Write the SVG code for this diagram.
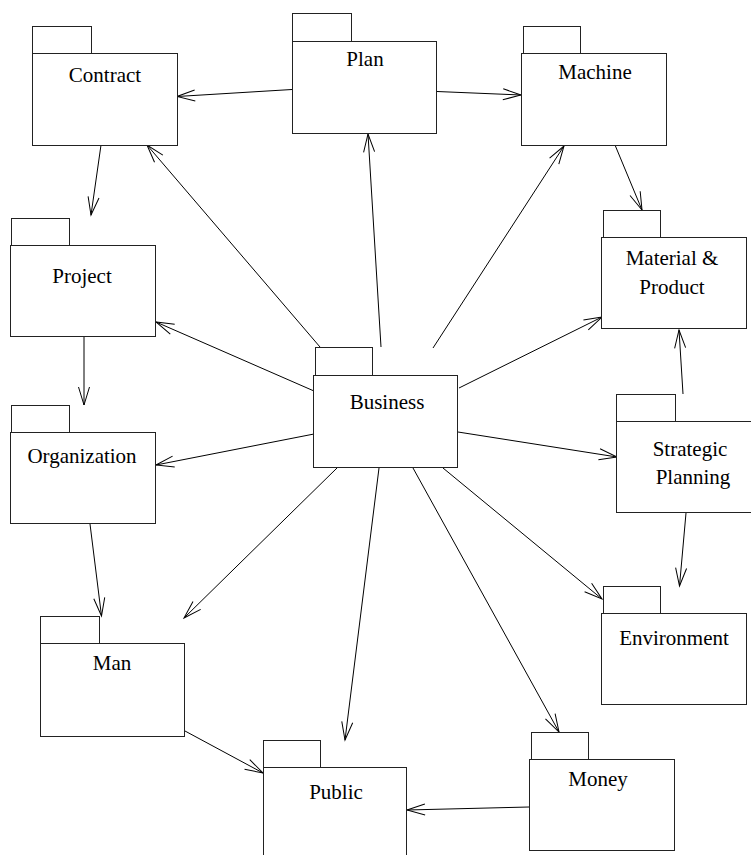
<svg xmlns="http://www.w3.org/2000/svg" width="751" height="855" viewBox="0 0 751 855">
<style>
.box{fill:#fff;stroke:#222;stroke-width:1}
.lbl{font-family:"Liberation Serif","Times New Roman",serif;font-size:21px;fill:#000;text-anchor:middle}
.edge{stroke:#000;stroke-width:1;fill:none;marker-end:url(#arr)}
</style>
<defs>
<marker id="arr" viewBox="-20 -8 22 16" refX="0" refY="0" markerWidth="22" markerHeight="16" orient="auto" markerUnits="userSpaceOnUse">
<path d="M-18,-5.5 L0,0 L-18,5.5" fill="none" stroke="#000" stroke-width="1"/>
</marker>
</defs>
<rect width="751" height="855" fill="#fff"/>
<g id="connectors">
<line class="edge" x1="292" y1="89.5" x2="177" y2="96.5"/>
<line class="edge" x1="101" y1="145" x2="91" y2="215"/>
<line class="edge" x1="320" y1="347" x2="147" y2="145"/>
<line class="edge" x1="437" y1="91.5" x2="521" y2="95"/>
<line class="edge" x1="381" y1="347" x2="368" y2="134"/>
<line class="edge" x1="433" y1="348" x2="564" y2="146"/>
<line class="edge" x1="615" y1="145" x2="642" y2="210"/>
<line class="edge" x1="459" y1="388" x2="602" y2="317"/>
<line class="edge" x1="683" y1="394" x2="679" y2="330"/>
<line class="edge" x1="314" y1="391" x2="156" y2="322"/>
<line class="edge" x1="84" y1="337" x2="84" y2="405"/>
<line class="edge" x1="314" y1="434" x2="156" y2="465"/>
<line class="edge" x1="90" y1="524" x2="101.5" y2="616"/>
<line class="edge" x1="337" y1="468" x2="184" y2="618"/>
<line class="edge" x1="185" y1="731" x2="263" y2="773"/>
<line class="edge" x1="379" y1="468" x2="345" y2="740"/>
<line class="edge" x1="529" y1="807" x2="407" y2="810"/>
<line class="edge" x1="413" y1="468" x2="559" y2="732"/>
<line class="edge" x1="443" y1="468" x2="602" y2="599"/>
<line class="edge" x1="458" y1="432" x2="617" y2="457"/>
<line class="edge" x1="686" y1="513" x2="679.5" y2="586"/>
</g>
<g id="contract">
<rect class="box" x="32.5" y="26.5" width="59" height="27"/>
<rect class="box" x="32.5" y="53.5" width="145" height="92"/>
<text class="lbl" x="105" y="82">Contract</text>
</g>
<g id="plan">
<rect class="box" x="292.5" y="13.5" width="59" height="28"/>
<rect class="box" x="292.5" y="41.5" width="144" height="92"/>
<text class="lbl" x="365" y="66">Plan</text>
</g>
<g id="machine">
<rect class="box" x="523.5" y="26.5" width="57" height="27"/>
<rect class="box" x="521.5" y="53.5" width="145" height="92"/>
<text class="lbl" x="595" y="79">Machine</text>
</g>
<g id="material">
<rect class="box" x="603.5" y="210.5" width="57" height="27"/>
<rect class="box" x="601.5" y="237.5" width="145" height="91"/>
<text class="lbl" x="672" y="265">Material &amp;</text>
<text class="lbl" x="672" y="294">Product</text>
</g>
<g id="project">
<rect class="box" x="11.5" y="218.5" width="58" height="27"/>
<rect class="box" x="10.5" y="245.5" width="145" height="91"/>
<text class="lbl" x="82" y="283">Project</text>
</g>
<g id="organization">
<rect class="box" x="11.5" y="405.5" width="58" height="27"/>
<rect class="box" x="10.5" y="432.5" width="145" height="91"/>
<text class="lbl" x="82" y="463">Organization</text>
</g>
<g id="business">
<rect class="box" x="315.5" y="347.5" width="57" height="29"/>
<rect class="box" x="313.5" y="375.5" width="144" height="92"/>
<text class="lbl" x="387" y="409">Business</text>
</g>
<g id="strategic">
<rect class="box" x="616.5" y="394.5" width="59" height="27"/>
<rect class="box" x="616.5" y="421.5" width="145" height="91"/>
<text class="lbl" x="690" y="456">Strategic</text>
<text class="lbl" x="693" y="484">Planning</text>
</g>
<g id="environment">
<rect class="box" x="603.5" y="586.5" width="57" height="27"/>
<rect class="box" x="601.5" y="613.5" width="145" height="91"/>
<text class="lbl" x="674" y="645">Environment</text>
</g>
<g id="man">
<rect class="box" x="40.5" y="616.5" width="59" height="27"/>
<rect class="box" x="40.5" y="643.5" width="144" height="93"/>
<text class="lbl" x="112" y="670">Man</text>
</g>
<g id="public">
<rect class="box" x="263.5" y="740.5" width="57" height="27"/>
<rect class="box" x="263.5" y="767.5" width="143" height="100"/>
<text class="lbl" x="336" y="799">Public</text>
</g>
<g id="money">
<rect class="box" x="531.5" y="732.5" width="57" height="27"/>
<rect class="box" x="529.5" y="759.5" width="145" height="91"/>
<text class="lbl" x="598" y="786">Money</text>
</g>
</svg>
